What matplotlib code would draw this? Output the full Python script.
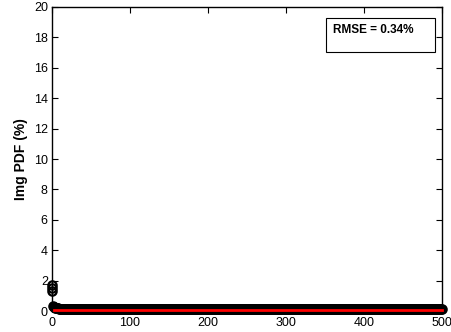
import numpy as np
import matplotlib.pyplot as plt

plt.rcParams['font.family'] = ['Liberation Sans', 'DejaVu Sans']

head_vals = [1.7, 1.5, 1.3, 0.35, 0.3, 0.26, 0.23, 0.21, 0.19, 0.18,
             0.17, 0.16, 0.15, 0.15, 0.14, 0.14, 0.13, 0.13, 0.13, 0.12]
tail_val = 0.12
n_bins = 500
head_x = [0, 0, 0] + list(range(1, len(head_vals) - 2))

# fitted curve (red)
fit_x = [3, 500]
fit_y = [0.1, 0.1]

rmse_text = 'RMSE = 0.34%'
xticks = [0, 100, 200, 300, 400, 500]
yticks = [0, 2, 4, 6, 8, 10, 12, 14, 16, 18, 20]

meas_x = np.array(head_x + list(range(len(head_x) - 2, n_bins + 1)))
meas_y = np.array(head_vals + [tail_val] * (len(meas_x) - len(head_vals)))

fig = plt.figure(figsize=(4.52, 3.32), dpi=100)
ax = fig.add_axes([0.115, 0.063, 0.863, 0.916])

ax.plot(meas_x, meas_y, 'o', mfc='none', mec='black', ms=6, mew=1.6,
        clip_on=False, zorder=3)
ax.plot(fit_x, fit_y, '-', color='red', lw=2, clip_on=False, zorder=4)

ax.set_xlim(0, 500)
ax.set_ylim(0, 20)
ax.set_xticks(xticks)
ax.set_yticks(yticks)
ax.tick_params(direction='in', top=True, right=True, labelsize=9, length=4)
ax.tick_params(axis='x', pad=4)
ax.tick_params(axis='y', pad=3)
ax.set_ylabel('Img PDF (%)', fontsize=10, fontweight='bold', labelpad=4)

for s in ax.spines.values():
    s.set_linewidth(1.0)

ax.text(0.72, 0.925, rmse_text, transform=ax.transAxes, fontsize=8.5,
        fontweight='bold', va='center', ha='left')
box = plt.Rectangle((0.703, 0.853), 0.28, 0.112, transform=ax.transAxes,
                    fill=False, edgecolor='black', lw=0.8)
ax.add_patch(box)

fig.savefig('out.png', dpi=100)
